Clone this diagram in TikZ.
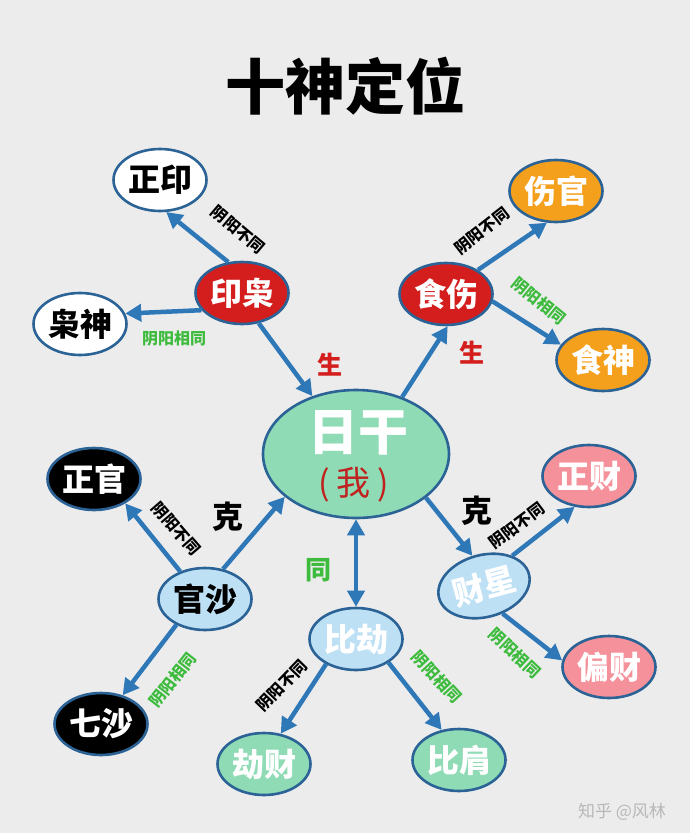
\documentclass[tikz,border=0pt]{standalone}
\usepackage{fontspec}
\setmainfont{Noto Sans CJK SC}
\usetikzlibrary{shapes.geometric,arrows.meta}
\definecolor{bgc}{HTML}{ECECEC}
\definecolor{lineblue}{HTML}{2E78B7}
\definecolor{edgeblue}{HTML}{2B6396}
\definecolor{redc}{HTML}{D41E1E}
\definecolor{orangec}{HTML}{F5A01C}
\definecolor{pinkc}{HTML}{F4919B}
\definecolor{mintc}{HTML}{8FDBB5}
\definecolor{lbluec}{HTML}{BEE0F5}
\definecolor{greenc}{HTML}{3DBB3D}
\definecolor{wored}{HTML}{C0201E}
\definecolor{markc}{HTML}{B8B8B8}
\begin{document}
\begin{tikzpicture}[x=1pt,y=-1pt,
  bubble/.style={ellipse, draw=edgeblue, line width=2.6pt, minimum width=93pt,
    minimum height=62pt, inner sep=0pt, font=\fontsize{32}{34}\selectfont\bfseries},
  arr/.style={draw=lineblue, line width=4.5pt, -{Triangle[length=16pt,width=17pt]}},
  arrtwo/.style={draw=lineblue, line width=4.5pt, {Triangle[length=16pt,width=17pt]}-{Triangle[length=16pt,width=17pt]}},
  blbl/.style={font=\fontsize{16}{17}\selectfont\bfseries, inner sep=0pt, text=black},
  glbl/.style={font=\fontsize{16}{17}\selectfont\bfseries, inner sep=0pt, text=greenc},
  bigmark/.style={font=\fontsize{31}{33}\selectfont\bfseries, inner sep=0pt},
]
\fill[bgc] (0,0) rectangle (690,833);
\useasboundingbox (0,0) rectangle (690,833);

% title
\node[font=\fontsize{60}{62}\selectfont\bfseries] (title) at (345,86) {十神定位};

% nodes
\node[bubble, fill=white] (zhengyin) at (160,180) {正印};
\node[bubble, fill=redc, text=white] (yinxiao) at (242,293) {印枭};
\node[bubble, fill=white] (xiaoshen) at (80,324) {枭神};
\node[bubble, fill=orangec, text=white] (shangguan) at (556,191) {伤官};
\node[bubble, fill=redc, text=white] (shishang) at (446,294) {食伤};
\node[bubble, fill=orangec, text=white] (shishen) at (603,360) {食神};

\node[ellipse, draw=edgeblue, line width=2.6pt, fill=mintc, minimum width=186pt,
  minimum height=128pt, inner sep=0pt] (rigan) at (356,454) {};
\node[font=\fontsize{50}{52}\selectfont\bfseries, text=white, inner sep=0pt] (riganA) at (358,433) {日干};
\node[font=\fontsize{34}{36}\selectfont, text=wored, inner sep=0pt] (riganB) at (354,485) {(\hspace{7pt}我\hspace{7pt})};

\node[bubble, fill=black, text=white] (zhengguan) at (94,479) {正官};
\node[bubble, fill=lbluec, text=black] (guansha) at (205,599) {官沙};
\node[bubble, fill=black, text=white] (qisha) at (101,724) {七沙};
\node[bubble, fill=pinkc, text=white] (zhengcai) at (589,476) {正财};
\node[bubble, fill=lbluec, text=white, rotate=15] (caixing) at (484,586) {财星};
\node[bubble, fill=pinkc, text=white] (piancai) at (609,667) {偏财};
\node[bubble, fill=lbluec, text=white] (bijie) at (356,639) {比劫};
\node[bubble, fill=mintc, text=white] (jiecai) at (264,764) {劫财};
\node[bubble, fill=mintc, text=white] (bijian) at (459,760) {比肩};

% connectors
\draw[arr] (yinxiao.114) -- (zhengyin.-79);
\draw[arr] (yinxiao.203) -- (xiaoshen.13);
\draw[arr] (yinxiao.-61) -- (rigan.127);
\draw[arr] (rigan.51) -- (shishang.-87);
\draw[arr] (shishang.37) -- (shangguan.254);
\draw[arr] (shishang.-9) -- (shishen.160);
\draw[arr] (guansha.132) -- (zhengguan.-38);
\draw[arr] (guansha.222) -- (qisha.53);
\draw[arr] (guansha.59) -- (rigan.211);
\draw[arr] (rigan.-32) -- (caixing.96);
\draw[arr] (caixing.32) -- (zhengcai.245);
\draw[arr] (caixing.289) -- (piancai.172);
\draw[arrtwo] (rigan.south) -- (bijie.north);
\draw[arr] (bijie.220) -- (jiecai.61);
\draw[arr] (bijie.-36) -- (bijian.120);

% labels
\node[blbl, rotate=-40] (l1) at (238,230) {阴阳不同};
\node[glbl] (l2) at (174,339) {阴阳相同};
\node[bigmark, text=redc, font=\fontsize{25}{27}\selectfont\bfseries] (sheng1) at (330,365) {生};
\node[blbl, rotate=38] (l3) at (482,231) {阴阳不同};
\node[glbl, rotate=-39] (l4) at (539,301) {阴阳相同};
\node[bigmark, text=redc, font=\fontsize{25}{27}\selectfont\bfseries] (sheng2) at (472,353) {生};
\node[blbl, rotate=-49] (l5) at (176,529) {阴阳不同};
\node[bigmark] (ke1) at (228,517) {克};
\node[glbl, rotate=52] (l6) at (173,680) {阴阳相同};
\node[bigmark] (ke2) at (477,511) {克};
\node[blbl, rotate=37] (l7) at (517,526) {阴阳不同};
\node[glbl, rotate=-43] (l8) at (515,653) {阴阳相同};
\node[bigmark, text=greenc, font=\fontsize{26}{28}\selectfont\bfseries] (tong) at (318,570) {同};
\node[blbl, rotate=46] (l9) at (282,686) {阴阳不同};
\node[glbl, rotate=-47] (l10) at (437,677) {阴阳相同};

% watermark
\node[font=\fontsize{17}{18}\selectfont, text=markc, inner sep=0pt] (mark) at (622,812) {知乎 @风林};
\end{tikzpicture}
\end{document}
